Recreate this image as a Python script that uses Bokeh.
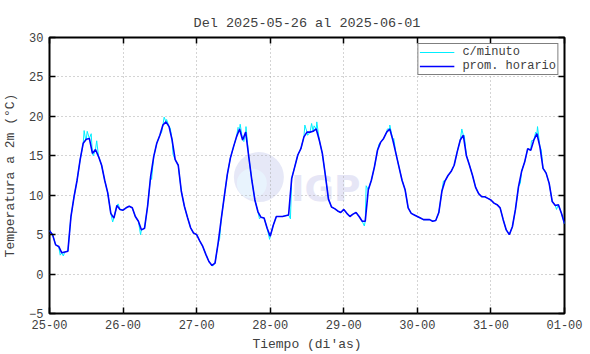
from bokeh.plotting import figure
from bokeh.models import (FixedTicker, LinearAxis, Legend, LegendItem, Range1d, Title)
from bokeh.core.properties import value
from bokeh.embed import file_html
from bokeh.resources import INLINE

# ---- data (hourly averages) ----
day_labels = ["25-00", "26-00", "27-00", "28-00", "29-00", "30-00", "31-00", "01-00"]
y_ticks = [-5, 0, 5, 10, 15, 20, 25, 30]

d25 = [5.5, 5.0, 3.7, 3.5, 2.7, 2.8, 2.9, 7.3, 9.8, 11.9, 14.5, 16.6, 17.1, 17.2, 15.3, 15.8,
       14.9, 13.8, 11.9, 10.3, 7.7, 7.1, 8.7, 8.2]
d26 = [8.1, 8.4, 8.6, 8.4, 7.3, 6.7, 5.6, 5.8, 8.6, 12.4, 14.9, 16.6, 17.6, 18.9, 19.3, 18.7,
       17.0, 14.5, 13.8, 10.5, 8.6, 7.2, 5.9, 5.2]
d27 = [5.0, 4.2, 3.5, 2.5, 1.6, 1.1, 1.4, 3.9, 6.9, 9.8, 12.6, 14.7, 16.1, 17.4, 18.4, 17.0,
       18.0, 14.9, 11.9, 9.4, 7.9, 7.2, 7.1, 5.8]
d28 = [4.8, 6.2, 7.3, 7.3, 7.3, 7.4, 7.5, 12.1, 13.6, 15.1, 15.9, 17.4, 18.0, 18.0, 18.1, 18.4,
       17.0, 15.3, 12.5, 9.5, 8.5, 8.3, 8.0, 7.8]
d29 = [8.2, 7.7, 7.3, 7.6, 7.8, 7.3, 6.7, 6.7, 10.7, 11.9, 13.6, 15.7, 16.7, 17.2, 18.0, 18.4,
       17.0, 15.3, 13.6, 11.9, 10.7, 8.4, 7.7, 7.5]
d30 = [7.3, 7.1, 6.9, 6.9, 6.9, 6.7, 6.8, 7.8, 10.5, 11.8, 12.5, 13.0, 13.8, 15.5, 17.0, 17.6,
       15.0, 13.8, 12.5, 11.0, 10.2, 9.8, 9.8, 9.6]
d31 = [9.4, 9.0, 8.8, 8.4, 6.9, 5.6, 5.0, 6.0, 8.2, 11.1, 13.0, 14.2, 15.9, 15.7, 17.0, 17.8,
       16.1, 13.4, 12.8, 11.5, 9.2, 8.7, 8.8, 7.7]
d01 = [6.4]

# minute-data excursions visible beyond the hourly line (hours since 25-00, degC)
spike_t = [3.5, 4.5, 11.3, 11.8, 12.3, 13.6, 14.3, 15.4, 16.4, 20.6, 22.4,
           29.7, 33.3, 36.6, 37.4, 38.2, 39.4, 40.3,
           53.2, 55.5, 61.5, 62.2, 63.4, 64.1, 68.5,
           71.8, 78.6, 79.3, 83.3, 84.2, 85.5, 86.3, 87.2,
           102.7, 103.3, 107.5, 110.2, 111.0, 112.3,
           128.5, 130.3, 133.6, 134.5, 135.3, 136.5,
           153.6, 154.3, 157.2, 158.6, 159.2, 160.4, 161.5, 165.4]
spike_v = [2.4, 2.3, 18.2, 17.0, 18.1, 17.8, 15.0, 16.9, 14.5, 6.6, 8.9,
           5.0, 12.0, 18.0, 19.9, 19.6, 18.5, 15.2,
           1.0, 4.5, 18.6, 19.0, 16.8, 18.7, 7.0,
           4.4, 7.0, 12.6, 18.9, 17.6, 19.1, 18.8, 19.3,
           6.1, 11.2, 16.5, 18.4, 18.9, 17.2,
           11.8, 12.6, 16.4, 18.4, 17.6, 14.5,
           11.5, 13.4, 16.9, 18.0, 18.7, 15.8, 13.2, 8.2]

hourly = d25 + d26 + d27 + d28 + d29 + d30 + d31 + d01
hours = list(range(len(hourly)))

pairs = sorted(list(zip(hours, hourly)) + list(zip(spike_t, spike_v)))
minute_t = [a for a, b in pairs]
minute_v = [b for a, b in pairs]

FONT = "Liberation Mono"
TXT = "#404040"

p = figure(width=590, height=354, output_backend="svg", toolbar_location=None,
           x_range=Range1d(0, 168), y_range=Range1d(-5, 30),
           min_border_left=46, min_border_right=26, min_border_top=37, min_border_bottom=41)
p.background_fill_color = "white"
p.border_fill_color = "white"
p.outline_line_color = "black"
p.outline_line_width = 2

p.title = Title(text="Del 2025-05-26 al 2025-06-01", align="center",
                text_font=FONT, text_font_size="13.5px", text_font_style="normal",
                text_color=TXT, offset=0, standoff=13)

# watermark (IGP logo)
p.scatter(x=[68.3], y=[12.3], size=50, marker="circle", fill_color="#e6e8f7",
          line_color=None, level="image")
p.scatter(x=[66.0], y=[11.5], size=30, marker="circle", fill_color="#e8f3fd",
          line_color=None, level="image")
p.text(x=[78.8], y=[10.8], text=["IGP"], text_font=value("DejaVu Sans"),
       text_font_style="bold", text_font_size="36px", text_color="#e6e6f6",
       text_baseline="alphabetic", level="image")

tick_pos = [0, 24, 48, 72, 96, 120, 144, 168]
xt = FixedTicker(ticks=tick_pos)
yt = FixedTicker(ticks=y_ticks)
overrides = {t: lab for t, lab in zip(tick_pos, day_labels)}

for ax in p.xaxis:
    ax.ticker = xt
    ax.major_label_overrides = overrides
for ax in p.yaxis:
    ax.ticker = yt

p.xaxis.axis_label = "Tiempo (di'as)"
p.yaxis.axis_label = "Temperatura a 2m (°C)"

r_ax = LinearAxis(ticker=yt, major_label_overrides={t: "" for t in y_ticks})
t_ax = LinearAxis(ticker=xt, major_label_overrides={t: "" for t in tick_pos})
p.add_layout(r_ax, "right")
p.add_layout(t_ax, "above")

for ax in p.axis:
    ax.axis_line_color = None
    ax.major_tick_in = 6
    ax.major_tick_out = 0
    ax.major_tick_line_color = "black"
    ax.major_tick_line_width = 1.5
    ax.minor_tick_line_color = None
    ax.major_label_text_font = FONT
    ax.major_label_text_font_size = "12px"
    ax.major_label_text_color = TXT
    ax.axis_label_text_font = FONT
    ax.axis_label_text_font_size = "13px"
    ax.axis_label_text_font_style = "normal"
    ax.axis_label_text_color = TXT
    ax.major_label_standoff = 6
r_ax.major_label_standoff = 0
t_ax.major_label_standoff = 0
p.xaxis[0].axis_label_standoff = 5
p.yaxis[0].axis_label_standoff = 8

p.xgrid.ticker = xt
p.ygrid.ticker = yt
for g in (p.xgrid, p.ygrid):
    g.grid_line_color = "#a8a8a8"
    g.grid_line_dash = "1 3"
    g.grid_line_width = 1

r_min = p.line(minute_t, minute_v, line_color="#00eeff", line_width=1)
r_hr = p.line(hours, hourly, line_color="#0000ff", line_width=1.6)

legend = Legend(items=[LegendItem(label="c/minuto", renderers=[r_min]),
                       LegendItem(label="prom. horario", renderers=[r_hr])],
                location="top_right")
legend.margin = 6
legend.padding = 1
legend.spacing = 0
legend.glyph_width = 35
legend.glyph_height = 10
legend.label_height = 10
legend.label_standoff = 8
legend.label_text_font = FONT
legend.label_text_font_size = "12px"
legend.label_text_color = TXT
legend.label_text_line_height = 0.9
legend.border_line_color = "black"
legend.border_line_width = 1
legend.background_fill_color = "white"
legend.background_fill_alpha = 1
p.add_layout(legend, "center")

open("out.html", "w").write(file_html(p, INLINE))
